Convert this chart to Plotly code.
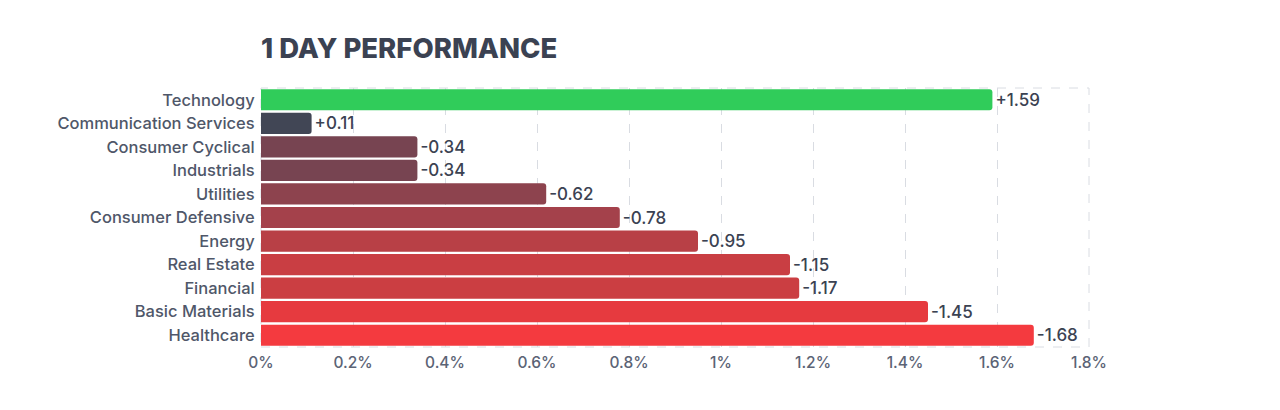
import plotly.graph_objects as go

sectors = ["Technology", "Communication Services", "Consumer Cyclical", "Industrials",
           "Utilities", "Consumer Defensive", "Energy", "Real Estate", "Financial",
           "Basic Materials", "Healthcare"]
changes = [1.59, 0.11, -0.34, -0.34, -0.62, -0.78, -0.95, -1.15, -1.17, -1.45, -1.68]
colors = ["#30cc5a", "#414655", "#774451", "#774451", "#8d434e", "#a4414b",
          "#b84046", "#c93e43", "#cb3e42", "#e63a3f", "#f43a3f"]
xticks = [0, 0.2, 0.4, 0.6, 0.8, 1.0, 1.2, 1.4, 1.6, 1.8]
xticklabels = ["0%", "0.2%", "0.4%", "0.6%", "0.8%", "1%", "1.2%", "1.4%", "1.6%", "1.8%"]

labels = [("+" if v > 0 else "") + f"{v:.2f}" for v in changes]

fig = go.Figure(go.Bar(
    x=[abs(v) for v in changes],
    y=sectors,
    orientation="h",
    marker=dict(color=colors, cornerradius=3, line=dict(width=0)),
    text=labels,
    textposition="outside",
    textfont=dict(family="Inter", size=17, color="#3b4252", weight=500),
    cliponaxis=False,
    hoverinfo="skip",
))

fig.update_layout(
    width=1280, height=410,
    margin=dict(l=253, r=199, t=80, b=71),
    paper_bgcolor="white", plot_bgcolor="white",
    bargap=0.1,
    showlegend=False,
    title=dict(text="1 DAY PERFORMANCE", x=253/1280, xanchor="left",
               y=1 - 40/410, yanchor="middle",
               font=dict(family="Inter", size=27.5, color="#3b4252", weight=800)),
    font=dict(family="Inter"),
)
fig.update_xaxes(range=[0, 1.8], tickvals=xticks, ticktext=xticklabels,
                 showgrid=True, gridcolor="#d9dce2", griddash="dash", gridwidth=1,
                 zeroline=False, showline=False,
                 tickfont=dict(family="Inter", size=15.5, color="#5b6375", weight=500),
                 ticks="outside", ticklen=1, tickcolor="rgba(0,0,0,0)")
fig.update_yaxes(autorange="reversed", showgrid=False, zeroline=False, showline=False,
                 tickfont=dict(family="Inter", size=16.5, color="#4f5769", weight=500),
                 ticks="outside", ticklen=2, tickcolor="rgba(0,0,0,0)")

fig.add_shape(type="rect", xref="paper", yref="paper", x0=0, x1=1, y0=0, y1=1,
              line=dict(color="#d9dce2", width=1, dash="dash"), layer="below")

fig.write_html("out.html")
